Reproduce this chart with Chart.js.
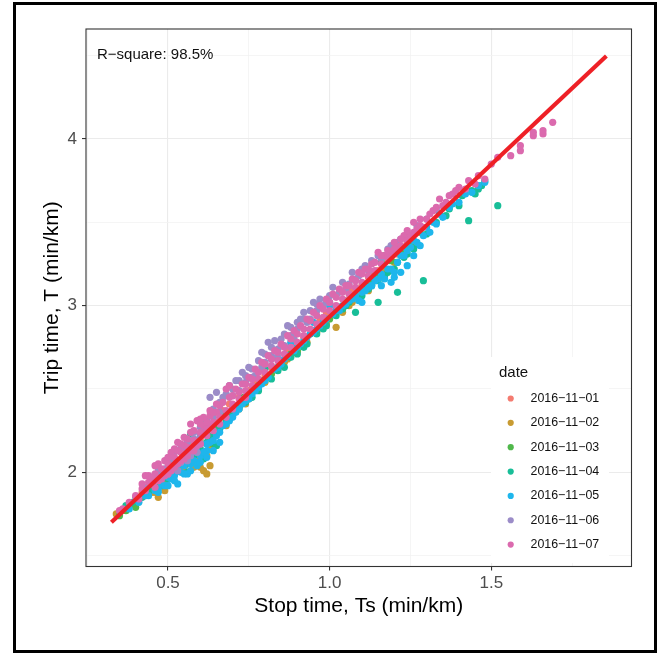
<!DOCTYPE html>
<html>
<head>
<meta charset="utf-8">
<script src="https://cdn.jsdelivr.net/npm/chart.js@4"></script>
<style>
  html, body { margin: 0; padding: 0; background: #fff; }
  #wrap { position: relative; width: 661px; height: 654px; }
  #frame { position: absolute; left: 13px; top: 2px; width: 638px; height: 645px; border: 3px solid #000; pointer-events: none; }
  canvas { position: absolute; left: 0; top: 0; }
</style>
</head>
<body>
<div id="wrap">
  <canvas id="tripChart" width="661" height="654"></canvas>
  <div id="frame"></div>
</div>
<script>
// légende / catégories
const dates = ['2016\u221211\u221201', '2016\u221211\u221202', '2016\u221211\u221203', '2016\u221211\u221204',
               '2016\u221211\u221205', '2016\u221211\u221206', '2016\u221211\u221207'];
const dateColors = ['#F47B70', '#C89B32', '#50B84B', '#18BE98', '#1EB6EC', '#9B8CC8', '#DB6AAE'];

const xTicks = [0.25, 0.5, 0.75, 1.0, 1.25, 1.5, 1.75];
const yTicks = [1.5, 2, 2.5, 3, 3.5, 4, 4.5];
const xLabels = { 0.5: '0.5', 1: '1.0', 1.5: '1.5' };
const yLabels = { 2: '2', 3: '3', 4: '4' };

const rSquareText = 'R\u2212square: 98.5%';

// [Ts, T] par jour
const day01 = [[0.36,1.77],[0.39,1.81],[0.42,1.88],[0.45,1.92],[0.47,1.98],[0.50,2.01],[0.52,2.07],[0.55,2.10],[0.57,2.18],[0.60,2.20],
  [0.62,2.25],[0.65,2.30],[0.67,2.37],[0.70,2.39],[0.72,2.45],[0.75,2.49],[0.77,2.55],[0.80,2.58],[0.82,2.63],[0.85,2.67],
  [0.87,2.73],[0.90,2.76],[0.92,2.81],[0.95,2.85],[0.97,2.91],[1.00,2.94],[1.02,2.99],[1.05,3.03],[1.07,3.09],[1.10,3.12],
  [1.12,3.17],[1.15,3.21],[1.18,3.28],[1.21,3.31],[1.24,3.38],[0.54,2.03],[0.64,2.21],[0.78,2.51],[0.44,1.91],[0.58,2.12],
  [0.69,2.41],[0.88,2.77],[0.99,2.96],[1.13,3.20]];
const day02 = [[0.34,1.75],[0.37,1.78],[0.40,1.81],[0.43,1.86],[0.45,1.88],[0.47,1.85],[0.48,1.93],[0.50,1.96],[0.52,2.00],[0.53,2.04],
  [0.55,2.03],[0.56,2.09],[0.58,2.10],[0.59,2.14],[0.61,2.01],[0.62,1.99],[0.61,2.11],[0.62,2.10],[0.64,2.22],[0.66,2.27],
  [0.69,2.33],[0.72,2.38],[0.75,2.44],[0.78,2.50],[0.81,2.57],[0.84,2.62],[0.87,2.68],[0.90,2.72],[0.93,2.78],[0.96,2.84],
  [0.99,2.89],[1.02,2.87],[1.04,2.96],[1.07,3.02],[1.10,3.08],[1.13,3.13],[1.17,3.21],[1.20,3.26],[1.24,3.34],[0.46,1.88],
  [0.49,1.93],[0.51,1.98],[0.54,2.01],[0.57,2.06],[0.60,2.09],[0.63,2.14],[0.68,2.28],[0.74,2.41],[0.80,2.54],[0.86,2.66],
  [0.92,2.76],[0.98,2.87],[1.06,3.00],[1.12,3.09],[1.15,3.17],[0.63,2.04],[0.60,2.03],[0.58,2.03],[0.49,1.89]];
const day03 = [[0.35,1.74],[0.37,1.77],[0.38,1.80],[0.40,1.79],[0.42,1.86],[0.45,1.91],[0.48,1.96],[0.50,2.00],[0.53,2.06],[0.55,2.09],
  [0.58,2.14],[0.60,2.17],[0.62,2.23],[0.64,2.17],[0.65,2.27],[0.67,2.34],[0.70,2.37],[0.73,2.45],[0.76,2.48],[0.79,2.55],
  [0.82,2.59],[0.85,2.65],[0.88,2.71],[0.91,2.77],[0.94,2.83],[0.97,2.87],[1.00,2.92],[1.03,2.99],[1.05,3.00],[1.08,3.06],
  [1.11,3.13],[1.14,3.18],[1.17,3.30],[1.19,3.27],[1.22,3.32],[1.25,3.37],[1.28,3.44],[1.34,3.55],[0.44,1.88],[0.47,1.93],
  [0.52,2.02],[0.57,2.11],[0.63,2.20],[0.68,2.31],[0.72,2.40],[0.78,2.52],[0.84,2.63],[0.90,2.73],[0.96,2.85],[1.02,2.96],
  [1.07,3.05],[1.13,3.16],[1.21,3.34],[1.16,3.26]];
const day04 = [[0.37,1.80],[0.39,1.82],[0.42,1.85],[0.46,1.90],[0.50,1.96],[0.53,2.01],[0.54,2.06],[0.57,2.23],[0.58,2.10],[0.60,2.14],
  [0.62,2.18],[0.66,2.26],[0.70,2.34],[0.74,2.42],[0.78,2.49],[0.80,2.62],[0.82,2.56],[0.86,2.63],[0.90,2.71],[0.93,2.77],
  [0.96,2.83],[0.99,2.88],[1.02,2.94],[1.05,3.00],[1.08,2.96],[1.10,3.06],[1.12,3.10],[1.15,3.02],[1.15,3.15],[1.18,3.20],
  [1.21,3.08],[1.21,3.26],[1.24,3.31],[1.27,3.37],[1.29,3.15],[1.30,3.43],[1.33,3.50],[1.37,3.58],[1.41,3.66],[1.43,3.51],
  [1.44,3.69],[1.45,3.67],[1.47,3.72],[1.52,3.60],[0.60,2.30],[0.44,1.89],[0.48,1.92],[0.51,1.99],[0.56,2.05],[0.64,2.22],
  [0.68,2.30],[0.72,2.39],[0.76,2.45],[0.84,2.61],[0.88,2.69],[0.92,2.75],[0.98,2.86],[1.04,2.98],[1.06,3.02],[1.09,3.05],
  [1.13,3.12],[1.17,3.18],[1.20,3.22],[1.23,3.29],[1.26,3.34],[1.36,3.54],[1.40,3.60],[1.46,3.70],[1.48,3.75],[0.61,2.08],
  [0.65,2.16],[0.56,2.00]];
const day05 = [[0.38,1.78],[0.41,1.82],[0.44,1.86],[0.47,1.90],[0.49,1.92],[0.51,1.96],[0.53,1.93],[0.54,2.00],[0.56,1.99],[0.57,2.05],
  [0.59,2.06],[0.60,2.10],[0.62,2.13],[0.63,2.18],[0.65,2.22],[0.67,2.28],[0.69,2.31],[0.71,2.36],[0.73,2.41],[0.75,2.44],
  [0.77,2.49],[0.79,2.53],[0.81,2.57],[0.83,2.62],[0.85,2.65],[0.87,2.70],[0.89,2.73],[0.91,2.77],[0.93,2.81],[0.95,2.84],
  [0.97,2.88],[0.99,2.92],[1.01,2.95],[1.03,2.97],[1.05,3.01],[1.07,3.04],[1.09,3.03],[1.11,3.09],[1.13,3.12],[1.15,3.16],
  [1.17,3.16],[1.19,3.14],[1.19,3.22],[1.21,3.26],[1.22,3.20],[1.23,3.30],[1.24,3.24],[1.25,3.35],[1.26,3.30],[1.27,3.38],
  [1.28,3.36],[1.29,3.42],[1.31,3.44],[1.33,3.49],[1.35,3.53],[1.37,3.59],[1.40,3.62],[1.44,3.68],[1.48,3.74],[0.82,2.68],
  [0.88,2.78],[0.95,2.90],[1.00,3.00],[0.43,1.86],[0.46,1.89],[0.48,1.93],[0.50,1.97],[0.52,1.98],[0.53,2.02],[0.55,2.04],
  [0.56,2.08],[0.58,2.07],[0.59,2.12],[0.61,2.12],[0.62,2.17],[0.64,2.19],[0.66,2.24],[0.68,2.29],[0.70,2.33],[0.72,2.38],
  [0.74,2.43],[0.76,2.47],[0.78,2.51],[0.80,2.55],[0.84,2.63],[0.86,2.68],[0.90,2.75],[0.92,2.79],[0.94,2.83],[0.96,2.86],
  [0.98,2.90],[1.02,2.97],[1.04,3.00],[1.06,3.03],[1.08,3.06],[1.10,3.08],[1.12,3.11],[1.14,3.15],[1.16,3.19],[1.18,3.22],
  [1.20,3.20],[1.22,3.30],[1.24,3.33],[1.26,3.39],[1.30,3.47],[1.32,3.50],[1.34,3.55],[1.38,3.61],[1.42,3.67],[1.46,3.72],
  [1.10,3.02],[1.16,3.12],[1.20,3.17],[0.55,1.99],[0.57,2.01],[0.59,2.04],[0.60,2.06],[0.62,2.09],[0.64,2.13],[0.66,2.18],
  [0.52,1.95],[0.50,1.92],[0.47,1.88]];
const day06 = [[0.40,1.85],[0.43,1.91],[0.46,1.96],[0.48,1.99],[0.50,1.99],[0.52,2.07],[0.54,2.06],[0.55,2.14],[0.57,2.10],[0.58,2.20],
  [0.60,2.17],[0.61,2.26],[0.62,2.31],[0.63,2.45],[0.64,2.38],[0.65,2.48],[0.66,2.42],[0.68,2.47],[0.69,2.52],[0.70,2.46],
  [0.72,2.55],[0.73,2.60],[0.74,2.54],[0.76,2.62],[0.77,2.58],[0.79,2.72],[0.80,2.66],[0.81,2.78],[0.82,2.70],[0.84,2.74],
  [0.85,2.80],[0.86,2.76],[0.87,2.88],[0.88,2.82],[0.90,2.86],[0.91,2.92],[0.92,2.96],[0.93,2.90],[0.95,3.02],[0.96,2.97],
  [0.97,3.04],[0.99,3.02],[1.01,3.11],[1.02,3.06],[1.04,3.14],[1.05,3.10],[1.07,3.20],[1.08,3.16],[1.10,3.22],[1.13,3.27],
  [1.15,3.30],[1.18,3.34],[1.21,3.38],[1.24,3.43],[1.27,3.48],[1.30,3.52],[1.33,3.58],[0.59,2.12],[0.56,2.07],[0.53,2.01],
  [0.64,2.33],[0.66,2.36],[0.67,2.45],[0.70,2.50],[0.71,2.55],[0.72,2.49],[0.74,2.58],[0.75,2.63],[0.76,2.57],[0.78,2.67],
  [0.79,2.63],[0.80,2.71],[0.82,2.75],[0.83,2.79],[0.84,2.69],[0.85,2.76],[0.86,2.83],[0.88,2.87],[0.89,2.80],[0.90,2.90],
  [0.92,2.92],[0.94,2.97],[0.94,2.92],[0.96,3.01],[0.98,3.00],[1.00,3.06],[1.00,3.02],[1.03,3.08],[1.06,3.13],[1.09,3.18],
  [1.11,3.24],[1.12,3.21],[1.16,3.28],[1.19,3.36],[1.22,3.40],[0.45,1.95],[0.49,2.02],[0.51,2.05],[0.60,2.22],[0.62,2.27],
  [0.50,2.08],[0.52,2.12],[0.54,2.15],[0.56,2.18],[0.58,2.24],[0.60,2.27],[0.47,2.02]];
const day07 = [[0.36,1.78],[0.38,1.82],[0.40,1.86],[0.41,1.84],[0.42,1.90],[0.43,1.89],[0.44,1.94],[0.44,1.98],[0.45,1.93],[0.46,1.99],
  [0.47,2.05],[0.47,1.95],[0.48,2.02],[0.49,2.07],[0.49,1.98],[0.50,2.05],[0.51,2.12],[0.51,2.01],[0.52,2.09],[0.53,2.18],
  [0.53,2.05],[0.54,2.12],[0.55,2.16],[0.55,2.08],[0.56,2.20],[0.57,2.13],[0.57,2.24],[0.58,2.19],[0.59,2.31],[0.59,2.16],
  [0.60,2.24],[0.61,2.28],[0.62,2.22],[0.63,2.34],[0.63,2.27],[0.64,2.30],[0.65,2.36],[0.66,2.33],[0.67,2.42],[0.68,2.37],
  [0.68,2.50],[0.69,2.45],[0.70,2.41],[0.71,2.50],[0.72,2.44],[0.73,2.53],[0.74,2.49],[0.75,2.57],[0.76,2.52],[0.77,2.62],
  [0.78,2.56],[0.79,2.66],[0.80,2.60],[0.81,2.70],[0.82,2.64],[0.83,2.73],[0.84,2.67],[0.85,2.77],[0.86,2.71],[0.87,2.82],
  [0.88,2.75],[0.89,2.85],[0.90,2.78],[0.91,2.88],[0.92,2.82],[0.93,2.92],[0.94,2.86],[0.95,2.96],[0.96,2.89],[0.97,3.00],
  [0.98,2.93],[0.99,3.04],[1.00,2.97],[1.01,3.07],[1.02,3.00],[1.03,3.10],[1.04,3.04],[1.05,3.12],[1.06,3.07],[1.07,3.16],
  [1.08,3.11],[1.09,3.20],[1.10,3.14],[1.11,3.22],[1.12,3.18],[1.13,3.25],[1.14,3.21],[1.15,3.32],[1.16,3.25],[1.17,3.30],
  [1.18,3.29],[1.20,3.38],[1.19,3.32],[1.21,3.35],[1.22,3.36],[1.23,3.42],[1.24,3.39],[1.26,3.50],[1.25,3.42],[1.27,3.46],
  [1.28,3.48],[1.30,3.52],[1.32,3.57],[1.33,3.59],[1.34,3.64],[1.36,3.62],[1.38,3.67],[1.40,3.71],[1.42,3.70],[1.43,3.75],
  [1.45,3.73],[1.46,3.78],[1.48,3.76],[1.50,3.85],[1.52,3.89],[1.56,3.90],[1.59,3.93],[1.59,3.96],[1.63,4.02],[1.63,4.04],
  [1.66,4.03],[1.66,4.05],[1.69,4.10],[0.43,1.98],[0.35,1.77],[0.42,1.93],[0.45,1.97],[0.46,1.91],[0.48,1.96],[0.50,2.09],
  [0.50,1.99],[0.52,2.03],[0.52,2.14],[0.54,2.07],[0.54,2.17],[0.56,2.10],[0.56,2.15],[0.58,2.13],[0.58,2.25],[0.60,2.17],
  [0.60,2.29],[0.62,2.30],[0.62,2.26],[0.64,2.25],[0.64,2.36],[0.66,2.29],[0.66,2.40],[0.68,2.33],[0.70,2.46],[0.70,2.38],
  [0.72,2.48],[0.74,2.45],[0.74,2.53],[0.76,2.56],[0.78,2.60],[0.80,2.65],[0.82,2.68],[0.84,2.72],[0.86,2.75],[0.88,2.80],
  [0.90,2.83],[0.92,2.86],[0.94,2.91],[0.96,2.94],[0.98,2.98],[1.00,3.02],[1.02,3.05],[1.04,3.08],[1.06,3.12],[1.08,3.15],
  [1.10,3.19],[1.12,3.22],[1.14,3.26],[1.16,3.30],[1.18,3.33],[1.20,3.34],[1.22,3.40],[1.24,3.45],[1.26,3.44],[1.28,3.52],
  [1.29,3.47],[1.31,3.55],[1.35,3.60],[1.37,3.66],[1.39,3.69],[0.57,2.29],[0.61,2.33],[0.65,2.41],[0.69,2.52],[0.46,2.04],
  [0.53,2.13],[0.55,2.21],[0.60,2.32],[0.63,2.37]];
const dayData = [day01, day02, day03, day04, day05, day06, day07];

// droite de régression (extrémités)
const fitTs = [0.325, 1.856];
const fitT = [1.700, 4.498];

const FONT = "'Liberation Sans', Arial, Helvetica, sans-serif";
Chart.defaults.font.family = FONT;

const near = (v, list) => list.some(t => Math.abs(t - v) < 1e-6);
const xMajor = [0.5, 1.0, 1.5];
const yMajor = [2, 3, 4];

const overlayPlugin = {
  id: 'overlay',
  afterDraw(chart) {
    const { ctx, chartArea: a } = chart;
    ctx.save();
    // cadre du panneau
    ctx.strokeStyle = '#333333';
    ctx.lineWidth = 1.1;
    ctx.strokeRect(a.left, a.top, a.right - a.left, a.bottom - a.top);

    // annotation R²
    ctx.fillStyle = '#111';
    ctx.font = '15px ' + FONT;
    ctx.textBaseline = 'middle';
    ctx.textAlign = 'left';
    ctx.fillText(rSquareText, a.left + 11, a.top + 25.5);

    // légende
    const lx = a.left + 405, ly = a.top + 328;
    ctx.fillStyle = '#fff';
    ctx.fillRect(lx, ly, 118, 206);
    ctx.fillStyle = '#111';
    ctx.font = '15px ' + FONT;
    ctx.fillText('date', lx + 8, ly + 16);
    ctx.font = '12.4px ' + FONT;
    dates.forEach((d, i) => {
      const cy = ly + 41.5 + i * 24.35;
      ctx.beginPath();
      ctx.arc(lx + 19.7, cy, 3.1, 0, Math.PI * 2);
      ctx.fillStyle = dateColors[i];
      ctx.fill();
      ctx.fillStyle = '#111';
      ctx.fillText(d, lx + 39.5, cy);
    });
    ctx.restore();
  }
};

const datasets = [{
  type: 'line',
  label: 'fit',
  data: fitTs.map((x, i) => ({ x, y: fitT[i] })),
  borderColor: '#EE2026',
  borderWidth: 4.2,
  pointRadius: 0,
  fill: false,
  order: 0
}];
dayData.forEach((pts, i) => {
  datasets.push({
    label: dates[i],
    data: pts.map(p => ({ x: p[0], y: p[1] })),
    backgroundColor: dateColors[i],
    borderWidth: 0,
    pointRadius: 3.6,
    order: 7 - i
  });
});

new Chart(document.getElementById('tripChart').getContext('2d'), {
  type: 'scatter',
  data: { datasets },
  plugins: [overlayPlugin],
  options: {
    responsive: false,
    animation: false,
    layout: { padding: { top: 29, right: 29.5, left: 0, bottom: 0 } },
    plugins: { legend: { display: false }, tooltip: { enabled: false } },
    scales: {
      x: {
        type: 'linear',
        min: 0.2464,
        max: 1.9337,
        afterBuildTicks: s => { s.ticks = xTicks.map(v => ({ value: v })); },
        afterFit: s => { s.height = 87.5; },
        border: { display: false },
        grid: {
          color: c => near(c.tick.value, xMajor) ? '#EBEBEB' : '#F3F3F3',
          lineWidth: c => near(c.tick.value, xMajor) ? 1.1 : 0.8,
          tickColor: c => near(c.tick.value, xMajor) ? '#333333' : 'rgba(0,0,0,0)',
          tickLength: 4,
          tickWidth: 1.1
        },
        ticks: {
          padding: 3,
          color: '#4D4D4D',
          font: { size: 17 },
          maxRotation: 0,
          autoSkip: false,
          callback: v => xLabels[Math.round(v * 100) / 100] || ''
        },
        title: {
          display: true,
          text: 'Stop time, Ts (min/km)',
          color: '#000',
          font: { size: 21 },
          padding: { top: 0, bottom: 35.5 }
        }
      },
      y: {
        type: 'linear',
        min: 1.4348,
        max: 4.660,
        afterBuildTicks: s => { s.ticks = yTicks.map(v => ({ value: v })); },
        afterFit: s => { s.width = 86; },
        border: { display: false },
        grid: {
          color: c => near(c.tick.value, yMajor) ? '#EBEBEB' : '#F3F3F3',
          lineWidth: c => near(c.tick.value, yMajor) ? 1.1 : 0.8,
          tickColor: c => near(c.tick.value, yMajor) ? '#333333' : 'rgba(0,0,0,0)',
          tickLength: 4,
          tickWidth: 1.1
        },
        ticks: {
          padding: 5,
          color: '#4D4D4D',
          font: { size: 17 },
          autoSkip: false,
          callback: v => yLabels[Math.round(v * 100) / 100] || ''
        },
        title: {
          display: true,
          text: 'Trip time, T (min/km)',
          color: '#000',
          font: { size: 21 },
          padding: { top: 39.5, bottom: 0 }
        }
      }
    }
  }
});
</script>
</body>
</html>
